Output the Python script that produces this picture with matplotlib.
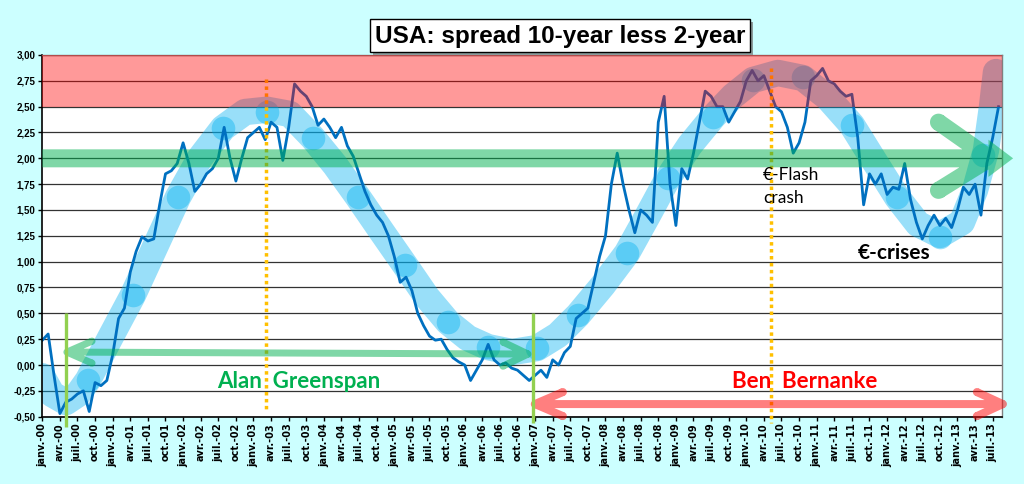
import numpy as np
import matplotlib
matplotlib.use("Agg")
import matplotlib.pyplot as plt
from matplotlib.path import Path
from matplotlib.patches import PathPatch, Rectangle
from matplotlib.transforms import IdentityTransform

# ---------------- data (monthly, Jan 2000 .. Aug 2013) ----------------
start_year = 2000
spread = [
    0.24, 0.30, -0.10, -0.47, -0.36, -0.33, -0.28, -0.25, -0.45, -0.17, -0.20, -0.15,   # 2000
    0.10, 0.45, 0.55, 0.90, 1.10, 1.24, 1.20, 1.22, 1.55, 1.85, 1.88, 1.95,             # 2001
    2.15, 1.95, 1.68, 1.75, 1.85, 1.90, 2.00, 2.30, 2.00, 1.78, 2.00, 2.20,             # 2002
    2.25, 2.30, 2.18, 2.35, 2.30, 1.98, 2.30, 2.72, 2.65, 2.60, 2.50, 2.32,             # 2003
    2.38, 2.30, 2.20, 2.30, 2.12, 2.02, 1.85, 1.68, 1.55, 1.45, 1.38, 1.25,             # 2004
    1.05, 0.80, 0.85, 0.72, 0.50, 0.38, 0.28, 0.24, 0.25, 0.15, 0.07, 0.03,             # 2005
    0.00, -0.15, -0.05, 0.05, 0.20, 0.05, 0.00, 0.02, -0.03, -0.05, -0.10, -0.15,       # 2006
    -0.10, -0.05, -0.12, 0.05, 0.00, 0.12, 0.18, 0.45, 0.50, 0.55, 0.80, 1.05,          # 2007
    1.25, 1.75, 2.05, 1.75, 1.50, 1.28, 1.50, 1.45, 1.38, 2.35, 2.60, 1.75,             # 2008
    1.35, 1.90, 1.80, 2.05, 2.35, 2.65, 2.60, 2.50, 2.50, 2.35, 2.45, 2.55,             # 2009
    2.75, 2.85, 2.75, 2.80, 2.65, 2.50, 2.45, 2.30, 2.05, 2.15, 2.35, 2.75,             # 2010
    2.80, 2.87, 2.75, 2.72, 2.65, 2.60, 2.62, 2.20, 1.55, 1.85, 1.75, 1.85,             # 2011
    1.65, 1.72, 1.70, 1.95, 1.60, 1.38, 1.22, 1.35, 1.45, 1.35, 1.42, 1.33,             # 2012
    1.50, 1.72, 1.65, 1.75, 1.45, 1.95, 2.20, 2.50,                                     # 2013
]
month_names = ["janv.", "avr.", "juil.", "oct."]
n_quarters = 55
tick_years = [start_year + q * 0.25 for q in range(n_quarters)]
tick_labels = [f"{month_names[q % 4]}-{(q // 4) % 100:02d}" for q in range(n_quarters)]
ytick_values = np.arange(-0.5, 3.01, 0.25)
ytick_labels = [f"{v:.2f}".replace(".", ",") for v in ytick_values]

title = "USA: spread 10-year less 2-year"

# annotation guide curve (hand-drawn trend) in data units
trend_x = [1999.996, 2000.138, 2000.337, 2000.507, 2000.649, 2000.962, 2001.288, 2001.601,
           2001.928, 2002.240, 2002.567, 2002.879, 2003.192, 2003.518, 2003.845, 2004.158,
           2004.484, 2004.825, 2005.152, 2005.464, 2005.763, 2006.047, 2006.331, 2006.672,
           2007.027, 2007.325, 2007.609, 2007.964, 2008.305, 2008.604, 2008.888, 2009.200,
           2009.527, 2009.811, 2010.095, 2010.450, 2010.805, 2011.160, 2011.501, 2011.828,
           2012.141, 2012.439, 2012.751, 2013.064, 2013.249, 2013.405, 2013.490, 2013.547]
trend_y = [-0.108, -0.282, -0.359, -0.282, -0.146, 0.260, 0.677, 1.141,
           1.625, 2.003, 2.293, 2.448, 2.470, 2.429, 2.197, 1.935,
           1.625, 1.287, 0.967, 0.657, 0.415, 0.260, 0.173, 0.125,
           0.164, 0.290, 0.483, 0.773, 1.083, 1.451, 1.809, 2.129,
           2.400, 2.603, 2.758, 2.826, 2.777, 2.584, 2.322, 1.964,
           1.625, 1.364, 1.258, 1.383, 1.693, 2.080, 2.497, 2.835]
bubble_x = [2000.649, 2001.288, 2001.928, 2002.567, 2003.192, 2003.845, 2004.484, 2005.152,
            2005.763, 2006.331, 2007.027, 2007.609, 2008.305, 2008.888, 2009.527, 2010.095,
            2010.805, 2011.501, 2012.141, 2012.751, 2013.362]
bubble_y = [-0.146, 0.677, 1.625, 2.293, 2.448, 2.197, 1.625, 0.967,
            0.415, 0.173, 0.164, 0.483, 1.083, 1.809, 2.400, 2.758,
            2.787, 2.322, 1.625, 1.238, 2.032]

# ---------------- figure ----------------
W, H = 1024, 484
fig = plt.figure(figsize=(W / 100, H / 100), dpi=100, facecolor="#CCFFFF")
ax = fig.add_axes([0.0413, 0.1391, 0.9372, 0.7473])
ax.set_facecolor("white")
ax.set_xlim(2000.0, 2013.632)
ax.set_ylim(-0.5, 3.0)

ax.set_yticks(ytick_values)
ax.set_yticklabels(ytick_labels, fontfamily="Liberation Sans", fontweight="bold", fontsize=7)
ax.set_xticks(tick_years)
ax.set_xticklabels(tick_labels, rotation=90, fontfamily="DejaVu Sans", fontweight="bold",
                   fontsize=7, va="top", ha="center")
ax.tick_params(axis="y", direction="out", length=3, width=1, pad=2)
ax.tick_params(axis="x", direction="out", length=3, width=1, pad=1.5)
ax.yaxis.grid(True, color="#333333", lw=0.9, zorder=0.5)
ax.set_axisbelow(True)
for s in ["left", "bottom"]:
    ax.spines[s].set_color("black")
    ax.spines[s].set_linewidth(1.2)
for s in ["top", "right"]:
    ax.spines[s].set_color("#808080")
    ax.spines[s].set_linewidth(1.0)

# trend band with bubbles
ax.plot(trend_x, trend_y, lw=19, color="#00B0F0", alpha=0.4, solid_capstyle="round",
        solid_joinstyle="round", zorder=1)
ax.plot(bubble_x, bubble_y, "o", ms=17, color="#00B0F0", alpha=0.4, mec="none", zorder=1)

# data
x = start_year + np.arange(len(spread)) / 12.0
ax.plot(x, spread, color="#0070C0", lw=2.0, zorder=2)

# orange dotted event lines
ax.plot([2003.173, 2003.173], [2.77, -0.456], color="#FFC000", lw=2.5, ls=(0, (1, 1)),
        dash_capstyle="butt", zorder=3, clip_on=False)
ax.plot([2010.344, 2010.344], [2.87, -0.56], color="#FFC000", lw=2.5, ls=(0, (1, 1)),
        dash_capstyle="butt", zorder=3, clip_on=False)

# --------- helper for union-filled shapes (display coords) ---------
def ccw(pts):
    pts = np.asarray(pts, float)
    xx, yy = pts[:, 0], pts[:, 1]
    area = 0.5 * np.sum(xx * np.roll(yy, -1) - np.roll(xx, -1) * yy)
    return pts if area > 0 else pts[::-1]

def disp(p):
    return ax.transData.transform(p)

def stroke(p, q, w, cap_p=False, cap_q=False):
    p, q = disp(p), disp(q)
    d = q - p
    d = d / np.hypot(*d)
    n = np.array([-d[1], d[0]]) * w / 2
    polys = [ccw([p + n, q + n, q - n, p - n])]
    t = np.linspace(0, 2 * np.pi, 40, endpoint=False)
    for c, flag in ((p, cap_p), (q, cap_q)):
        if flag:
            polys.append(ccw(np.c_[c[0] + w / 2 * np.cos(t), c[1] + w / 2 * np.sin(t)]))
    return polys

def add_union(polys, color, alpha, z):
    verts, codes = [], []
    for pg in polys:
        verts.extend(pg)
        verts.append(pg[0])
        codes.extend([Path.MOVETO] + [Path.LINETO] * (len(pg) - 1) + [Path.CLOSEPOLY])
    patch = PathPatch(Path(verts, codes), facecolor=color, edgecolor="none", alpha=alpha,
                      transform=IdentityTransform(), zorder=z)
    ax.add_artist(patch)
    patch.set_clip_on(False)

# big green horizontal arrow at 2.0
g = []
g += stroke((2000.0, 2.0), (2013.44, 2.0), 18)
g += stroke((2012.73, 2.35), (2013.44, 2.01), 17, True, True)
g += stroke((2012.73, 1.69), (2013.44, 1.99), 17, True, True)
g.append(ccw([disp((2013.44, 2.18)), disp((2013.44, 1.82)), disp((2013.79, 2.0))]))
add_union(g, "#00B050", 0.5, 4)

# Greenspan arrow (green, double-headed)
ga = []
ga += stroke((2000.35, 0.125), (2006.899, 0.106), 7, True, True)
ga += stroke((2000.35, 0.125), (2000.706, 0.231), 7, False, True)
ga += stroke((2000.35, 0.125), (2000.706, 0.018), 7, False, True)
ga += stroke((2006.899, 0.106), (2006.544, 0.222), 7, False, True)
ga += stroke((2006.899, 0.106), (2006.544, -0.011), 7, False, True)
add_union(ga, "#00B050", 0.5, 6)

# Bernanke arrow (red, double-headed)
ra = []
ra += stroke((2006.996, -0.378), (2013.645, -0.378), 8, True, True)
ra += stroke((2006.996, -0.378), (2007.394, -0.262), 8, False, True)
ra += stroke((2006.996, -0.378), (2007.394, -0.494), 8, False, True)
ra += stroke((2013.645, -0.378), (2013.276, -0.262), 8, False, True)
ra += stroke((2013.645, -0.378), (2013.276, -0.494), 8, False, True)
add_union(ra, "#FF0000", 0.5, 6)

# red zone
ax.axhspan(2.5, 3.0, color="#FF0000", alpha=0.4, lw=0, zorder=5)

# green vertical chairman-change lines
ax.plot([2000.332, 2000.332], [0.5, -0.60], color="#92D050", lw=2.4, zorder=6,
        solid_capstyle="butt", clip_on=False)
ax.plot([2006.97, 2006.97], [0.5, -0.56], color="#92D050", lw=2.4, zorder=6,
        solid_capstyle="butt", clip_on=False)

# texts
ax.text(2003.64, -0.156, "Alan  Greenspan", color="#00B050", fontsize=16, fontweight="bold",
        family="Lato", ha="center", va="center", zorder=8)
ax.text(2010.836, -0.156, "Ben  Bernanke", color="#FF0000", fontsize=16, fontweight="bold",
        family="Lato", ha="center", va="center", zorder=8)
ax.text(2010.239, 1.838, "€-Flash", color="black", fontsize=12.5, family="Lato",
        ha="left", va="center", zorder=8)
ax.text(2010.239, 1.616, "crash", color="black", fontsize=12.5, family="Lato",
        ha="left", va="center", zorder=8)
ax.text(2012.1, 1.083, "€-crises", color="black", fontsize=15, fontweight="bold",
        family="Lato", ha="center", va="center", zorder=8)

# title in a white box with a drop shadow
bx0, by0, bw, bh = 370, 19, 380, 33   # box in figure pixels (top-left origin)
fig.add_artist(Rectangle(((bx0 + 3) / W, 1 - (by0 + bh + 3) / H), bw / W, bh / H,
                         transform=fig.transFigure, fc="#8C9C9C", ec="none", zorder=10))
fig.add_artist(Rectangle((bx0 / W, 1 - (by0 + bh) / H), bw / W, bh / H,
                         transform=fig.transFigure, fc="white", ec="black", lw=1, zorder=11))
fig.text((bx0 + bw / 2) / W, 1 - (by0 + bh / 2 + 1) / H, title, fontsize=17.5,
         fontweight="bold", family="Liberation Sans", ha="center", va="center",
         color="black", zorder=12)

fig.savefig("out.png", dpi=100, facecolor=fig.get_facecolor())
